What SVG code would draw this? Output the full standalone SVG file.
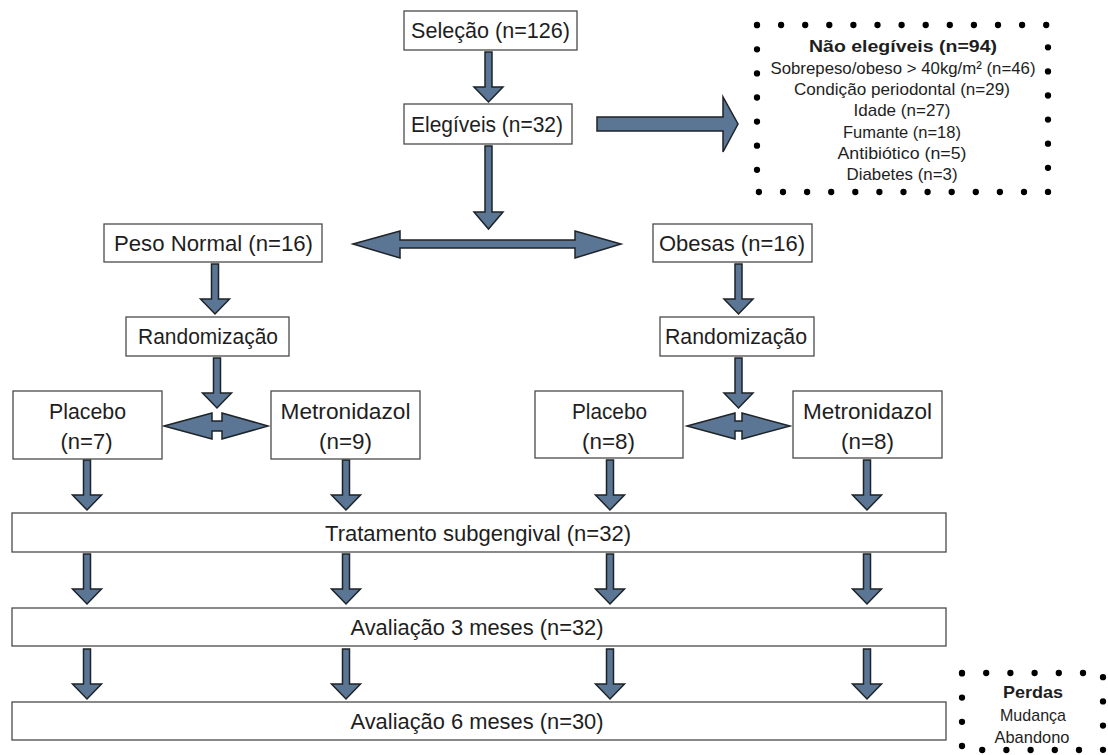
<svg xmlns="http://www.w3.org/2000/svg" width="1108" height="755" viewBox="0 0 1108 755">
<style>
.box{fill:#fff;stroke:#4a4a4a;stroke-width:1.3}
.t{font-family:"Liberation Sans",Arial,sans-serif;font-size:22.5px;fill:#1e1e1e;text-anchor:middle}
.s{font-family:"Liberation Sans",Arial,sans-serif;font-size:17px;fill:#1e1e1e;text-anchor:middle}
.b{font-weight:bold}
.arr{fill:#5a7694;stroke:#1e2327;stroke-width:1.5;stroke-linejoin:miter}
.dot{fill:none;stroke:#000;stroke-width:6.3;stroke-linecap:round}
</style>
<defs>
<path id="dn" d="M-3.5,0 H3.5 V35 H14.5 L0,50 L-14.5,35 H-3.5 Z"/>
</defs>
<rect width="1108" height="755" fill="#fff"/>

<g id="connectors" class="arr">
<use href="#dn" x="488.5" y="52"/>
<path d="M485,146 H492 V212 H503 L488.5,229 L474,212 H485 Z"/>
<path d="M597,117 L723,117 L723,97 L738,124 L723,152 L723,131 L597,131 Z"/>
<path d="M353,244 L400,231 L400,240 L575,240 L575,231 L621,244 L575,258 L575,248 L400,248 L400,258 Z"/>
<use href="#dn" x="215" y="264"/>
<use href="#dn" x="738.5" y="264"/>
<use href="#dn" x="217" y="358"/>
<use href="#dn" x="738.5" y="358"/>
<path d="M164,426 L212,413 L212,421 L222,421 L222,413 L268,426 L222,439 L222,431 L212,431 L212,439 Z"/>
<path d="M687,426 L735,413 L735,421 L742,421 L742,413 L790,426 L742,439 L742,431 L735,431 L735,439 Z"/>
<use href="#dn" x="87" y="460"/>
<use href="#dn" x="346" y="460"/>
<use href="#dn" x="610" y="460"/>
<use href="#dn" x="867" y="460"/>
<use href="#dn" x="87" y="554"/>
<use href="#dn" x="346" y="554"/>
<use href="#dn" x="610" y="554"/>
<use href="#dn" x="867" y="554"/>
<use href="#dn" x="87" y="649"/>
<use href="#dn" x="346" y="649"/>
<use href="#dn" x="610" y="649"/>
<use href="#dn" x="867" y="649"/>
</g>

<g id="selecao">
<rect class="box" x="404" y="11" width="173" height="39"/>
<text class="t" x="490.5" y="38" textLength="159" lengthAdjust="spacingAndGlyphs">Seleção (n=126)</text>
</g>
<g id="elegiveis">
<rect class="box" x="404" y="104" width="168" height="40"/>
<text class="t" x="487" y="132" textLength="152" lengthAdjust="spacingAndGlyphs">Elegíveis (n=32)</text>
</g>
<g id="nao-elegiveis">
<rect class="dot" x="757" y="25" width="291" height="167" stroke-dasharray="0 24.1"/>
<text class="s b" x="903" y="52" textLength="188" lengthAdjust="spacingAndGlyphs">Não elegíveis (n=94)</text>
<text class="s" x="903" y="74" textLength="265" lengthAdjust="spacingAndGlyphs">Sobrepeso/obeso &gt; 40kg/m² (n=46)</text>
<text class="s" x="902" y="95" textLength="216" lengthAdjust="spacingAndGlyphs">Condição periodontal (n=29)</text>
<text class="s" x="902" y="116" textLength="97" lengthAdjust="spacingAndGlyphs">Idade (n=27)</text>
<text class="s" x="902" y="138" textLength="118" lengthAdjust="spacingAndGlyphs">Fumante (n=18)</text>
<text class="s" x="902" y="159" textLength="129" lengthAdjust="spacingAndGlyphs">Antibiótico (n=5)</text>
<text class="s" x="902" y="180" textLength="111" lengthAdjust="spacingAndGlyphs">Diabetes (n=3)</text>
</g>
<g id="peso-normal">
<rect class="box" x="104" y="224" width="218" height="38"/>
<text class="t" x="213.5" y="251" textLength="199" lengthAdjust="spacingAndGlyphs">Peso Normal (n=16)</text>
</g>
<g id="obesas">
<rect class="box" x="653" y="224" width="159" height="38"/>
<text class="t" x="732" y="251" textLength="146" lengthAdjust="spacingAndGlyphs">Obesas (n=16)</text>
</g>
<g id="randomizacao-1">
<rect class="box" x="126" y="317" width="163" height="39"/>
<text class="t" x="208" y="344" textLength="140" lengthAdjust="spacingAndGlyphs">Randomização</text>
</g>
<g id="randomizacao-2">
<rect class="box" x="660" y="317" width="154" height="39"/>
<text class="t" x="736" y="344" textLength="142" lengthAdjust="spacingAndGlyphs">Randomização</text>
</g>
<g id="placebo-1">
<rect class="box" x="13" y="391" width="149" height="68"/>
<text class="t" x="87.5" y="419" textLength="77" lengthAdjust="spacingAndGlyphs">Placebo</text>
<text class="t" x="86.5" y="449" textLength="52" lengthAdjust="spacingAndGlyphs">(n=7)</text>
</g>
<g id="metronidazol-1">
<rect class="box" x="271" y="391" width="149" height="68"/>
<text class="t" x="345.5" y="419" textLength="130" lengthAdjust="spacingAndGlyphs">Metronidazol</text>
<text class="t" x="345.5" y="449" textLength="53" lengthAdjust="spacingAndGlyphs">(n=9)</text>
</g>
<g id="placebo-2">
<rect class="box" x="535" y="391" width="148" height="67"/>
<text class="t" x="609.5" y="419" textLength="75" lengthAdjust="spacingAndGlyphs">Placebo</text>
<text class="t" x="608.5" y="449" textLength="53" lengthAdjust="spacingAndGlyphs">(n=8)</text>
</g>
<g id="metronidazol-2">
<rect class="box" x="793" y="391" width="149" height="67"/>
<text class="t" x="867.5" y="419" textLength="129" lengthAdjust="spacingAndGlyphs">Metronidazol</text>
<text class="t" x="867.5" y="449" textLength="53" lengthAdjust="spacingAndGlyphs">(n=8)</text>
</g>
<g id="tratamento">
<rect class="box" x="12" y="513" width="934" height="39"/>
<text class="t" x="478" y="541" textLength="306" lengthAdjust="spacingAndGlyphs">Tratamento subgengival (n=32)</text>
</g>
<g id="avaliacao-3">
<rect class="box" x="12" y="608" width="934" height="38"/>
<text class="t" x="477" y="635" textLength="253" lengthAdjust="spacingAndGlyphs">Avaliação 3 meses (n=32)</text>
</g>
<g id="avaliacao-6">
<rect class="box" x="12" y="702" width="934" height="38"/>
<text class="t" x="477" y="729" textLength="253" lengthAdjust="spacingAndGlyphs">Avaliação 6 meses (n=30)</text>
</g>
<g id="perdas">
<rect class="dot" x="962" y="673" width="141" height="77" stroke-dasharray="0 24.2"/>
<text class="s b" x="1033" y="698" textLength="60" lengthAdjust="spacingAndGlyphs">Perdas</text>
<text class="s" x="1033" y="721" textLength="66" lengthAdjust="spacingAndGlyphs">Mudança</text>
<text class="s" x="1032" y="743" textLength="75" lengthAdjust="spacingAndGlyphs">Abandono</text>
</g>
</svg>
